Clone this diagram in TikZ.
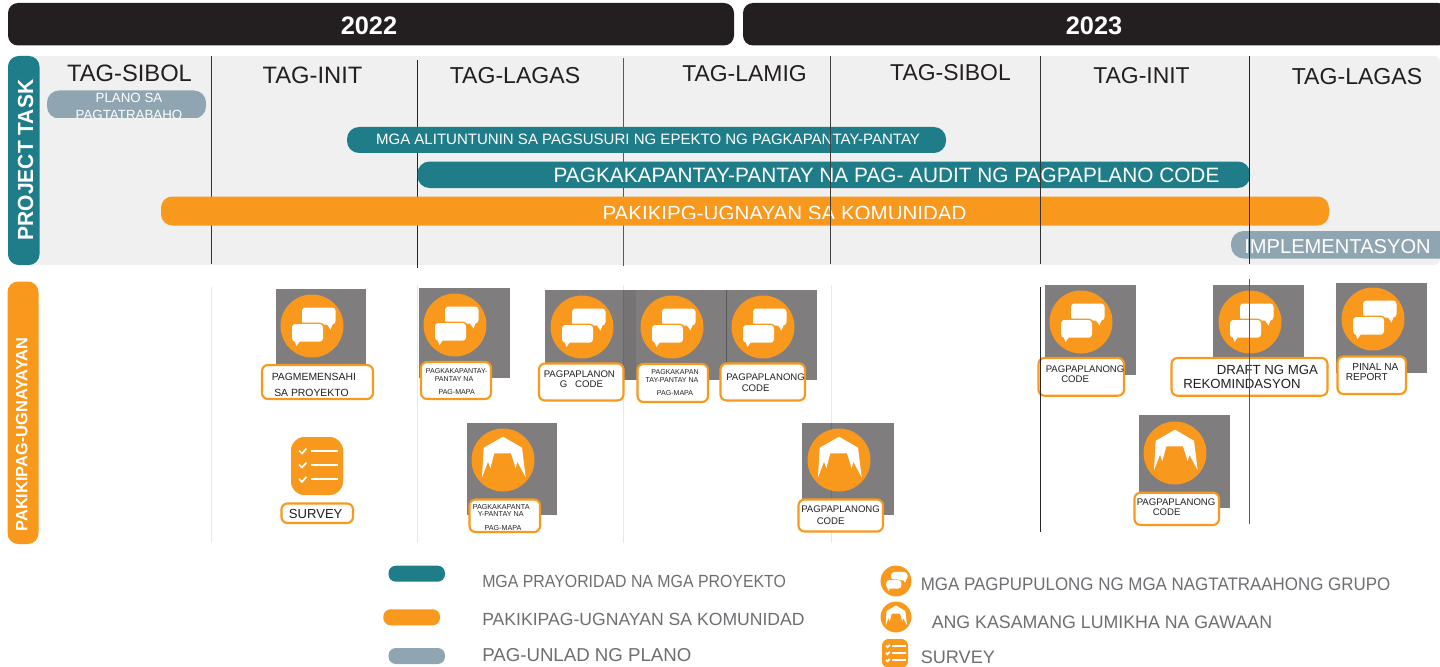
\documentclass[tikz,border=0pt]{standalone}
\usepackage{fontspec}
\setmainfont{Liberation Sans}
\definecolor{barblack}{HTML}{231F20}
\definecolor{tealbar}{HTML}{1E7D89}
\definecolor{orangebar}{HTML}{F8981D}
\definecolor{slatebar}{HTML}{8FA5B1}
\definecolor{panelgray}{HTML}{F0F0F0}
\definecolor{tilegray}{HTML}{7F7D7E}
\definecolor{legendgray}{HTML}{6D6E71}
\newcommand{\fsz}[1]{\fontsize{#1}{#1}\selectfont}
\newcommand{\narrow}[1]{\addfontfeature{FakeStretch=#1}}

\tikzset{
  chatmark/.pic={
    \fill[orangebar] (0,0) circle (31.5);
    \fill[white,rounded corners=2.5pt] (-10,-18.5) rectangle (23.5,-1.5);
    \fill[white] (14,-3) -- (21,-3) -- (18.5,3.5) -- cycle;
    \fill[orangebar,rounded corners=3.5pt] (-21.5,-3.5) rectangle (12.5,17);
    \fill[white,rounded corners=2.5pt] (-20,-2) rectangle (11,15.7);
    \fill[white] (-17.5,15) -- (-12,15) -- (-15.5,20) -- cycle;
  },
  tentmark/.pic={
    \fill[orangebar] (0,0) circle (31.5);
    \fill[white] (0,-23.3) -- (19,-12.3) -- (22.7,17.3) -- (14.3,1.7) -- (12.7,8.3) -- (8,-6.7) -- (-8.7,-6.7) -- (-12.7,8.3) -- (-15,1.7) -- (-21,17.3) -- (-19.3,-12.3) -- cycle;
  },
  surveymark/.pic={
    \fill[orangebar,rounded corners=#1] (-26,-29) rectangle (26,29);
    \draw[white,line width=1.3pt] (-5.7,-15) -- (21,-15) (-5.7,-1) -- (21,-1) (-5.7,13.3) -- (21,13.3);
    \draw[white,line width=1.3pt] (-18,-15.5) -- (-15,-12.5) -- (-10.5,-17.5) (-18,-1.5) -- (-15,1.5) -- (-10.5,-3.5) (-18,12.8) -- (-15,15.8) -- (-10.5,10.8);
  },
  seasonlabel/.style={anchor=base,inner sep=0.75pt,text=barblack,font=\fsz{#1}},
  seasonlabel/.default=17.2pt,
  tasklabel/.style={anchor=base,inner sep=0.75pt,text=white},
  boxtext/.style={anchor=base west,inner sep=0.75pt,text=barblack},
  boxmid/.style={anchor=base,inner sep=0.75pt,text=barblack},
  legendtext/.style={anchor=base west,inner sep=0.75pt,text=legendgray},
  labelbox/.style={draw=orangebar,fill=white,line width=1.6pt,rounded corners=4.5pt},
}

\begin{document}
\begin{tikzpicture}[x=0.75pt,y=0.75pt,yscale=-1,xscale=1]
\useasboundingbox (0,0) rectangle (1440,667);

%Shape: year bars
\fill[barblack,rounded corners=7.5pt] (8,3) rectangle (734,45.5);
\fill[barblack,rounded corners=7.5pt] (743,3) rectangle (1448,45.5);
% Text Node
\node (year1) at (369,35) [anchor=base,inner sep=0.75pt,text=white,font=\bfseries\fsz{19pt}] {2022};
% Text Node
\node (year2) at (1094,35) [anchor=base,inner sep=0.75pt,text=white,font=\bfseries\fsz{19pt}] {2023};

%Shape: task panel
\fill[panelgray,rounded corners=4.5pt] (20,56) rectangle (1440,265);
\fill[tealbar,rounded corners=8pt] (8,56) rectangle (39.5,265);
% Text Node
\node (tasktitle) at (33,160) [rotate=90,anchor=base,inner sep=0.75pt,text=white,font=\bfseries\fsz{16.4pt}\narrow{0.96}] {PROJECT TASK};

%Shape: season lines under the bars
\draw[black!80,line width=0.6pt] (211,56) -- (211,264);
\draw[black!85,line width=0.6pt] (417.3,60) -- (417.3,268);
\draw[black!65,line width=0.7pt] (623,58) -- (623,266);

% Text Node
\node (spring1) at (129.5,81.6) [seasonlabel=17.8pt] {TAG-SIBOL};
\node (summer1) at (312.5,84) [seasonlabel=17.8pt] {TAG-INIT};
\node (autumn1) at (515,84) [seasonlabel=17.3pt] {TAG-LAGAS};
\node (winter1) at (744.5,81.7) [seasonlabel] {TAG-LAMIG};
\node (spring2) at (950.5,80.7) [seasonlabel] {TAG-SIBOL};
\node (summer2) at (1141.5,84) [seasonlabel] {TAG-INIT};
\node (autumn2) at (1357,84.7) [seasonlabel=17.3pt] {TAG-LAGAS};

%Shape: plan pill
\begin{scope}
\path[clip,rounded corners=9pt] (47,90.5) rectangle (206,118.5);
\fill[slatebar] (47,90.5) rectangle (206,118.5);
\node (plan1) at (129,103) [tasklabel,font=\fsz{10pt}] {PLANO SA};
\node (plan2) at (129,119.5) [tasklabel,font=\fsz{10pt}] {PAGTATRABAHO};
\end{scope}

%Shape: guidelines pill
\fill[tealbar,rounded corners=9pt] (347,127) rectangle (946,153);
\node (guide) at (648,144) [tasklabel,font=\fsz{11.27pt}] {MGA ALITUNTUNIN SA PAGSUSURI NG EPEKTO NG PAGKAPANTAY-PANTAY};

%Shape: audit pill
\fill[tealbar,rounded corners=9pt] (417.5,161.5) rectangle (1250,188);
\node (audit) at (886.5,182.7) [tasklabel,font=\fsz{15.6pt}] {PAGKAKAPANTAY-PANTAY NA PAG- AUDIT NG PAGPAPLANO CODE};

%Shape: community pill
\fill[orangebar,rounded corners=8.5pt] (161,196.5) rectangle (1329,225.5);
\begin{scope}
\clip (161,196.5) rectangle (1329,218);
\node (community) at (784.5,220) [tasklabel,font=\fsz{15.4pt}] {PAKIKIPG-UGNAYAN SA KOMUNIDAD};
\end{scope}

%Shape: implementation pill
\fill[slatebar,rounded corners=9.5pt] (1231,231) rectangle (1460,258.5);
\node (impl) at (1337.5,253) [tasklabel,font=\fsz{15.1pt}] {IMPLEMENTASYON};

%Shape: season lines over the bars
\draw[black!75,line width=0.6pt] (830.5,56) -- (830.5,264);
\draw[black!80,line width=0.6pt] (1040.3,56) -- (1040.3,264);
\draw[black!85,line width=0.6pt] (1249.5,56) -- (1249.5,264);

%Shape: outreach title
\fill[orangebar,rounded corners=8pt] (7.5,281.5) rectangle (38.5,544);
% Text Node
\node (outreachtitle) at (27.5,434.5) [rotate=90,anchor=base,inner sep=0.75pt,text=white,font=\bfseries\fsz{12.3pt}] {PAKIKIPAG-UGNAYAYAN};

%Shape: gray tiles
\fill[tilegray] (275.7,289) rectangle (366.3,379);
\fill[tilegray] (419,288) rectangle (510,378.3);
\fill[tilegray] (545,290) rectangle (817,380.3);
\fill[black,opacity=0.08] (622.7,290) rectangle (636,380.3);
\fill[tilegray] (466.7,423) rectangle (557.3,515);
\fill[tilegray] (802,423) rectangle (894,515);
\fill[tilegray] (1044.7,285) rectangle (1136,375.3);
\fill[tilegray] (1213,285) rectangle (1304,375);
\fill[tilegray] (1336,283) rectangle (1427,373);
\fill[tilegray] (1138.7,415) rectangle (1230,507.7);

%Shape: faint season lines
\draw[black,opacity=0.09,line width=0.7pt] (211,287) -- (211,543);
\draw[black,opacity=0.09,line width=0.7pt] (417,285) -- (417,543);
\draw[black,opacity=0.09,line width=0.7pt] (623,285) -- (623,543);
\draw[black,opacity=0.09,line width=0.7pt] (831,285) -- (831,543);
\draw[black,opacity=0.3,line width=0.5pt] (726.5,290) -- (726.5,380);

%Shape: icons
\pic[transform shape] at (312,326) {chatmark};
\pic[transform shape] at (455,325) {chatmark};
\pic[transform shape] at (582,327) {chatmark};
\pic[transform shape] at (672,327) {chatmark};
\pic[transform shape] at (763,327) {chatmark};
\pic[transform shape] at (1081,322) {chatmark};
\pic[transform shape] at (1250,322) {chatmark};
\pic[transform shape] at (1373,319) {chatmark};
\pic[transform shape] at (503,460) {tentmark};
\pic[transform shape] at (839,460) {tentmark};
\pic[transform shape] at (1175,453) {tentmark};
\pic[transform shape] at (317,466) {surveymark=10pt};

%Shape: label boxes
\draw[labelbox] (262,365) rectangle (373,399);
\draw[labelbox] (421,362) rectangle (491,399);
\draw[labelbox] (539,363.5) rectangle (623.5,400.5);
\draw[labelbox] (637.5,364) rectangle (708,402);
\draw[labelbox] (720.5,363.5) rectangle (805,400.5);
\draw[labelbox] (281.5,503.5) rectangle (353,523);
\draw[labelbox] (469.5,499.5) rectangle (540,532);
\draw[labelbox] (798.5,499.5) rectangle (883,531.5);
\draw[labelbox] (1038.5,358) rectangle (1124,395.7);
\draw[labelbox] (1171.5,358) rectangle (1327.5,395.7);
\draw[labelbox] (1337.5,356.5) rectangle (1406,394);
\draw[labelbox] (1134.5,492.7) rectangle (1219,525);

% Text Node
\node (msg1) at (270.5,380) [boxtext,font=\fsz{7.8pt}] {PAGMEMENSAHI};
\node (msg2) at (273,396) [boxtext,font=\fsz{7.8pt}] {SA PROYEKTO};
\node (map1) at (456.7,373.7) [boxmid,font=\fsz{5.3pt}] {PAGKAKAPANTAY-};
\node (map2) at (454,381.7) [boxmid,font=\fsz{5.3pt}] {PANTAY NA};
\node (map3) at (456.7,394) [boxmid,font=\fsz{5.3pt}] {PAG-MAPA};
\node (code1) at (542.5,377) [boxtext,font=\fsz{7.2pt}] {PAGPAPLANON};
\node (code2) at (558.5,387.7) [boxtext,font=\fsz{7.2pt}] {G\ \ \ CODE};
\node (map4) at (675,374) [boxmid,font=\fsz{5.3pt}] {PAGKAKAPAN};
\node (map5) at (672,382) [boxmid,font=\fsz{5.3pt}] {TAY-PANTAY NA};
\node (map6) at (675,395) [boxmid,font=\fsz{5.3pt}] {PAG-MAPA};
\node (code3) at (725,380) [boxtext,font=\fsz{7.2pt}] {PAGPAPLANONG};
\node (code4) at (740.5,391) [boxtext,font=\fsz{7.2pt}] {CODE};
\node (survey) at (315.7,518) [boxmid,font=\fsz{9.8pt}] {SURVEY};
\node (map7) at (471.5,509.3) [boxtext,font=\fsz{5.4pt}] {PAGKAKAPANTA};
\node (map8) at (500.7,516.7) [boxmid,font=\fsz{5.4pt}] {Y-PANTAY NA};
\node (map9) at (503,530) [boxmid,font=\fsz{5.4pt}] {PAG-MAPA};
\node (code5) at (800,512.7) [boxtext,font=\fsz{7.2pt}] {PAGPAPLANONG};
\node (code6) at (815.5,524) [boxtext,font=\fsz{7.2pt}] {CODE};
\node (code7) at (1044.5,372) [boxtext,font=\fsz{7.2pt}] {PAGPAPLANONG};
\node (code8) at (1060,382) [boxtext,font=\fsz{7.2pt}] {CODE};
\node (draft1) at (1215.5,374) [boxtext,font=\fsz{9.9pt}] {DRAFT NG MGA};
\node (draft2) at (1182,388) [boxtext,font=\fsz{9.9pt}] {REKOMINDASYON};
\node (final1) at (1351,370) [boxtext,font=\fsz{7.6pt}] {PINAL NA};
\node (final2) at (1344.5,380) [boxtext,font=\fsz{7.6pt}] {REPORT};
\node (code9) at (1135.5,505) [boxtext,font=\fsz{7.2pt}] {PAGPAPLANONG};
\node (code10) at (1151.5,515) [boxtext,font=\fsz{7.2pt}] {CODE};

%Shape: dark lines over the lower band
\draw[black!85,line width=0.6pt] (1040.3,287) -- (1040.3,532);
\draw[black!65,line width=0.7pt] (1249,279) -- (1249,524);

%Shape: legend keys
\fill[tealbar,rounded corners=5.5pt] (388.5,565.7) rectangle (445,581.7);
\fill[orangebar,rounded corners=5.5pt] (383.3,609.3) rectangle (440,625.3);
\fill[slatebar,rounded corners=5.5pt] (388.5,648) rectangle (445,664);
\pic[transform shape,scale=0.49] at (896,581) {chatmark};
\pic[transform shape,scale=0.49] at (896,617) {tentmark};
\pic[transform shape,scale=0.5] at (895,653.5) {surveymark=5pt};

% Text Node
\node (key1) at (481,587.7) [legendtext,font=\fsz{13.2pt}\narrow{0.902}] {MGA PRAYORIDAD NA MGA PROYEKTO};
\node (key2) at (481,625) [legendtext,font=\fsz{13.2pt}] {PAKIKIPAG-UGNAYAN SA KOMUNIDAD};
\node (key3) at (481,661) [legendtext,font=\fsz{14pt}] {PAG-UNLAD NG PLANO};
\node (key4) at (919.5,590.7) [legendtext,font=\fsz{13.6pt}\narrow{0.934}] {MGA PAGPUPULONG NG MGA NAGTATRAAHONG GRUPO};
\node (key5) at (930.5,628) [legendtext,font=\fsz{13.6pt}\narrow{0.98}] {ANG KASAMANG LUMIKHA NA GAWAAN};
\node (key6) at (919.5,663) [legendtext,font=\fsz{13.6pt}] {SURVEY};

\end{tikzpicture}
\end{document}
